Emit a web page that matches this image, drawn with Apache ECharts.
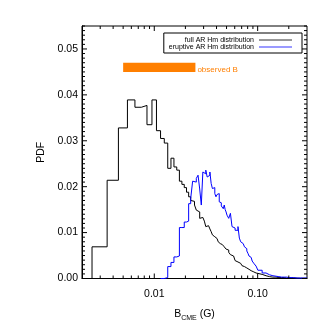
<!DOCTYPE html>
<html><head><meta charset="utf-8">
<script src="https://cdn.jsdelivr.net/npm/echarts@6/dist/echarts.min.js"></script>
<style>html,body{margin:0;padding:0;background:#fff}#c{width:332px;height:332px}</style>
</head><body><div id="c"></div>
<script>
// bin groups: [first edge, bin width, number of bins]
const binGroups = [[0.0025, 0.001, 48], [0.0505, 0.002, 25], [0.1005, 0.01, 20]];

const fullAR = [
  0.0069, 0.0214, 0.0328, 0.0389, 0.0373, 0.0377, 0.0335, 0.0389, 0.0322, 0.0305,
  0.0295, 0.0240, 0.0262, 0.0243, 0.0236, 0.0212, 0.0205, 0.0198, 0.0188, 0.0178,
  0.0170, 0.0168, 0.0160, 0.0149, 0.0145, 0.0131, 0.0133, 0.0131, 0.0125, 0.0113,
  0.0115, 0.0113, 0.0108, 0.0102, 0.0095, 0.0091, 0.0089, 0.0087, 0.0083, 0.0080,
  0.0076, 0.0078, 0.0074, 0.0070, 0.0071, 0.0069, 0.0066, 0.0064,
  0.0062, 0.0057, 0.0052, 0.0049, 0.0045, 0.0039, 0.0036, 0.0035, 0.0033, 0.0031,
  0.0028, 0.0026, 0.0025, 0.0023, 0.0022, 0.0020, 0.0019, 0.0017, 0.0016, 0.0015,
  0.0014, 0.0013, 0.0012, 0.0011, 0.0010,
  0.0009, 0.0006, 0.0004, 0.0003, 0.0003, 0.0002, 0.0002, 0.0002, 0.0001, 0.0001,
  0.0001, 0.0001, 0.00008, 0.00008, 0.00008, 0.00005, 0.00005, 0.00005, 0.00005, 0.00005
];

const eruptiveAR = [
  null, null, null, null, null, null, null, null, null, 0,
  0.0002, 0.0026, 0.0035, 0.0047, 0.0049, 0.0111, 0.0111, 0.0123, 0.0125, 0.0163,
  0.0174, 0.0212, 0.0210, 0.0218, 0.0225, 0.0195, 0.0160, 0.0232, 0.0228, 0.0236,
  0.0221, 0.0225, 0.0232, 0.0207, 0.0196, 0.0198, 0.0185, 0.0178, 0.0183, 0.0185,
  0.0167, 0.0165, 0.0158, 0.0155, 0.0152, 0.0160, 0.0150, 0.0145,
  0.0138, 0.0131, 0.0142, 0.0113, 0.0110, 0.0105, 0.0105, 0.0113, 0.0088, 0.0080,
  0.0076, 0.0073, 0.0069, 0.0065, 0.0060, 0.0055, 0.0049, 0.0046, 0.0042, 0.0038,
  0.0035, 0.0032, 0.0029, 0.0027, 0.0025,
  0.0018, 0.0012, 0.0008, 0.0006, 0.0005, 0.0004, 0.0003, 0.0003, 0.0003, 0.0002,
  0.0002, 0.0002, 0.0002, 0.0001, 0.0002, 0.0001, 0.0001, 0.0001, 0.0001, 0.0001
];

const xMajorTicks = [0.01, 0.1];
const xMinorTicks = [0.003, 0.004, 0.005, 0.006, 0.007, 0.008, 0.009,
  0.02, 0.03, 0.04, 0.05, 0.06, 0.07, 0.08, 0.09, 0.2];
const yMajorTicks = [0, 0.01, 0.02, 0.03, 0.04, 0.05];
const yMinorTicks = [];
for (let k = 1; k <= 55; k++) { if (k % 10 !== 0) yMinorTicks.push(Number((k * 0.001).toFixed(3))); }

const observedB = [0.005, 0.025];
const observedBand = [0.045, 0.047];

const seriesNames = ['full AR Hm distribution', 'eruptive AR Hm distribution'];

// bin edges
const edges = [];
binGroups.forEach(([start, w, n]) => {
  for (let i = 0; i < n; i++) edges.push(Number((start + w * i).toFixed(4)));
});
edges.push(Number((binGroups[2][0] + binGroups[2][1] * binGroups[2][2]).toFixed(4)));

function stepPoints(values) {
  const pts = [];
  let started = false;
  for (let i = 0; i < values.length; i++) {
    const v = values[i];
    if (v == null) continue;
    if (!started) { pts.push([edges[i], 0]); started = true; }
    pts.push([edges[i], v], [edges[i + 1], v]);
  }
  pts.push([edges[values.length], 0]);
  return pts;
}

const FONT = "'Liberation Sans', Arial, sans-serif";
const XMIN = 0.002, XMAX = 0.3, YMIN = 0, YMAX = 0.055;
const SIZE = 332;
const GRID = { left: 82, right: 25, top: 26, bottom: 53.5 };
const MAJOR_LEN = 5, MINOR_LEN = 3;   // tick lengths in pixels

// convert a tick length in pixels into axis units (linear y, log x)
const plotW = SIZE - GRID.left - GRID.right;
const plotH = SIZE - GRID.top - GRID.bottom;
const yPerPx = (YMAX - YMIN) / plotH;
const decPerPx = Math.log10(XMAX / XMIN) / plotW;

// each tick is a short 2-point line drawn through the chart's own axes
const tickSeries = [];
function tickLine(points) {
  tickSeries.push({
    type: 'line', name: seriesNames[0], xAxisIndex: 0, yAxisIndex: 0,
    data: points, symbol: 'none', showSymbol: false, silent: true, clip: false,
    lineStyle: { color: '#000', width: 1 }, itemStyle: { color: '#000' }, z: 4
  });
}
function xTick(v, len) {
  const dy = len * yPerPx;
  tickLine([[v, YMIN], [v, YMIN + dy]]);
  tickLine([[v, YMAX], [v, YMAX - dy]]);
}
function yTick(v, len) {
  const f = Math.pow(10, len * decPerPx);
  tickLine([[XMIN, v], [XMIN * f, v]]);
  tickLine([[XMAX / f, v], [XMAX, v]]);
}
xMajorTicks.forEach(v => xTick(v, MAJOR_LEN));
xMinorTicks.forEach(v => xTick(v, MINOR_LEN));
yMajorTicks.forEach(v => yTick(v, MAJOR_LEN));
yMinorTicks.forEach(v => yTick(v, MINOR_LEN));

const chart = echarts.init(document.getElementById('c'), null, { renderer: 'canvas' });
chart.setOption({
  animation: false,
  backgroundColor: '#fff',
  grid: { left: GRID.left, right: GRID.right, top: GRID.top, bottom: GRID.bottom,
    containLabel: false, outerBoundsMode: 'none',
    show: true, borderColor: '#000', borderWidth: 1, backgroundColor: 'transparent' },
  xAxis: {
    type: 'log', logBase: 10, min: XMIN, max: XMAX, position: 'bottom',
    axisLine: { show: true, onZero: false, lineStyle: { color: '#000', width: 1 } },
    axisTick: { show: false },
    axisLabel: { show: true, customValues: xMajorTicks, formatter: v => Number(v).toFixed(2),
      margin: 10, fontSize: 10.5, color: '#000', fontFamily: FONT },
    splitLine: { show: false }, minorTick: { show: false },
    name: '{a|B}{b|CME}{a| (G)}', nameLocation: 'middle', nameGap: 29,
    nameTextStyle: { rich: {
      a: { fontSize: 10.5, lineHeight: 14, color: '#000', fontFamily: FONT },
      b: { fontSize: 7, lineHeight: 9, verticalAlign: 'bottom', color: '#000', fontFamily: FONT }
    } }
  },
  yAxis: {
    type: 'value', min: YMIN, max: YMAX, position: 'left',
    axisLine: { show: true, onZero: false, lineStyle: { color: '#000', width: 1 } },
    axisTick: { show: false },
    axisLabel: { show: true, customValues: yMajorTicks, formatter: v => Number(v).toFixed(2),
      margin: 4, fontSize: 10.5, color: '#000', fontFamily: FONT },
    splitLine: { show: false },
    name: 'PDF', nameLocation: 'middle', nameGap: 30, nameRotate: 90,
    nameTextStyle: { fontSize: 10.5, color: '#000', fontFamily: FONT }
  },
  legend: {
    orient: 'vertical', right: 30, top: 33, align: 'right',
    itemWidth: 33, itemHeight: 7.6, itemGap: 0,
    padding: [3.5, 9, 2.5, 5], borderColor: '#000', borderWidth: 1, borderRadius: 0,
    textStyle: { fontSize: 7, color: '#000', fontFamily: FONT },
    data: [
      { name: seriesNames[0], lineStyle: { color: '#333', width: 1 }, itemStyle: { opacity: 0 } },
      { name: seriesNames[1], lineStyle: { color: '#9a9aff', width: 2 }, itemStyle: { opacity: 0 } }
    ]
  },
  series: [
    {
      type: 'line', name: seriesNames[0], xAxisIndex: 0, yAxisIndex: 0,
      data: stepPoints(fullAR), symbol: 'none', showSymbol: false,
      lineStyle: { color: '#000', width: 1 }, itemStyle: { color: '#000' },
      markArea: {
        silent: true,
        itemStyle: { color: '#ff7f00', opacity: 1 },
        label: { show: true, position: 'right', distance: 2, formatter: 'observed B',
          color: '#ff7f00', fontSize: 8, fontFamily: FONT, offset: [0, 2] },
        data: [[{ xAxis: observedB[0], yAxis: observedBand[0] }, { xAxis: observedB[1], yAxis: observedBand[1] }]]
      }
    },
    {
      type: 'line', name: seriesNames[1], xAxisIndex: 0, yAxisIndex: 0,
      data: stepPoints(eruptiveAR), symbol: 'none', showSymbol: false,
      lineStyle: { color: '#0000ff', width: 1 }, itemStyle: { color: '#0000ff' }
    }
  ].concat(tickSeries)
});
</script>
</body></html>
